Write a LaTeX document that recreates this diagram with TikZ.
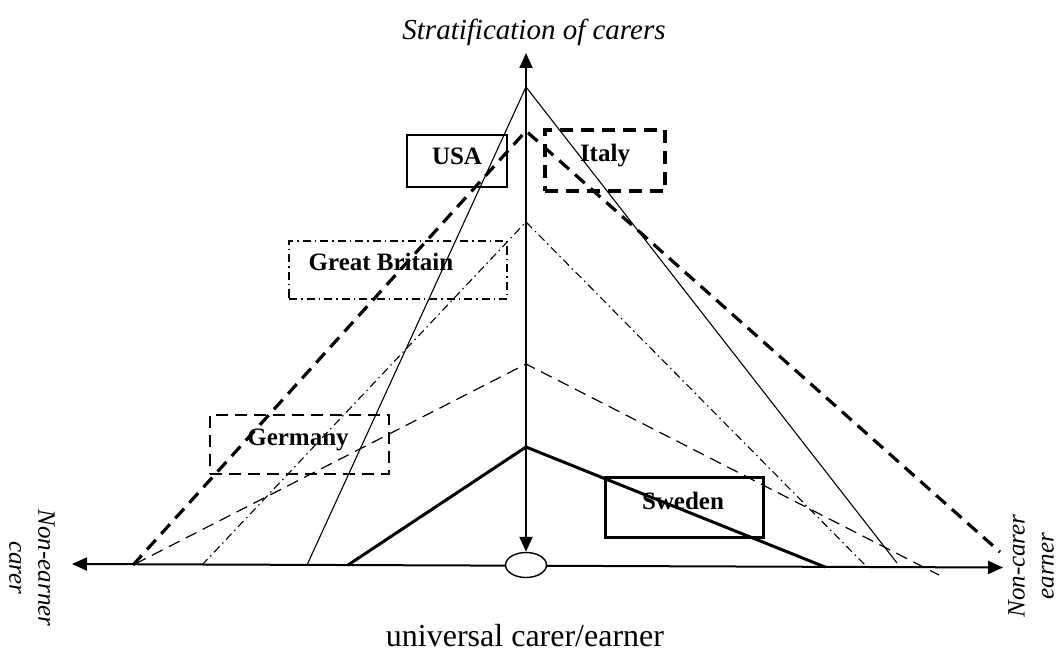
\documentclass[tikz,border=0pt]{standalone}
\usepackage{fontspec}
\setmainfont{Liberation Serif}
\usetikzlibrary{arrows.meta,shapes.geometric}

\begin{document}
\begin{tikzpicture}[x=1pt, y=-1pt,
    >={Triangle[length=15pt, width=13pt]},
    every node/.append style={inner sep=0pt},
    axis/.style={line width=2pt},
    country/.style={font=\bfseries\fontsize{25}{30}\selectfont, anchor=base},
    side/.style={font=\itshape\fontsize{25}{29}\selectfont, align=center},
    thinline/.style={line width=1.1pt},
    thickline/.style={line width=3pt},
    thindash/.style={line width=1.2pt, dash pattern=on 12pt off 7pt},
    thickdash/.style={line width=3.2pt, dash pattern=on 13pt off 8pt},
    dashdot/.style={line width=1.1pt, dash pattern=on 8pt off 4pt on 1.5pt off 4pt},
    box/.style={draw, minimum width=#1}
]

    \useasboundingbox (0,0) rectangle (1062,652);

    \def\ax{526}      % x of the vertical axis

    % axes
    \coordinate (west) at (72,564);
    \coordinate (east) at (1003,567.5);
    \coordinate (north) at (\ax,53);

    \draw[axis, <->] (west) -- (east);
    \node[draw, ellipse, fill=white, line width=1.4pt, minimum width=41pt, minimum height=25pt] (origin) at (\ax,565) {};
    \draw[axis, <->] (origin.north) -- (north);

    % apex of each country
    \coordinate (usa) at (\ax,87);
    \coordinate (ita) at (\ax,131);
    \coordinate (gbr) at (\ax,222);
    \coordinate (ger) at (\ax,364);
    \coordinate (swe) at (\ax,447);

    \draw[thinline]  (307,565) -- (usa) -- (897,563);
    \draw[thickdash] (133,565) -- (ita) -- (1000,552);
    \draw[dashdot]   (202,565) -- (gbr) -- (867,567);
    \draw[thindash]  (135,564) -- (ger) -- (939,575);
    \draw[thickline] (348,565) -- (swe) -- (825,567);

    % boxes
    \node[box=100pt, minimum height=52pt, thinline] (usabox) at (457,161) {};
    \node[box=120pt, minimum height=61pt, thickdash] (itabox) at (605,160.5) {};
    \node[box=218pt, minimum height=58pt, dashdot] (gbrbox) at (398,270) {};
    \node[box=179pt, minimum height=59pt, thindash] (gerbox) at (299.5,444.5) {};
    \node[box=158pt, minimum height=60pt, thickline] (swebox) at (684,507) {};

    \node[country] (usatext) at (457,165) {USA};
    \node[country] (itatext) at (605,162) {Italy};
    \node[country] (gbrtext) at (381,270) {Great Britain};
    \node[country] (gertext) at (298,445) {Germany};
    \node[country] (swetext) at (683,509) {Sweden};

    % labels
    \node[font=\itshape\fontsize{29}{35}\selectfont, anchor=base] (title) at (534,40) {Stratification of carers};
    \node[font=\fontsize{32}{38}\selectfont, anchor=base] (bottom) at (525,646) {universal carer/earner};
    \node[side, rotate=-90] (left) at (32,568) {Non-earner\\carer};
    \node[side, rotate=90] (right) at (1031,566) {Non-carer\\earner};

\end{tikzpicture}
\end{document}
